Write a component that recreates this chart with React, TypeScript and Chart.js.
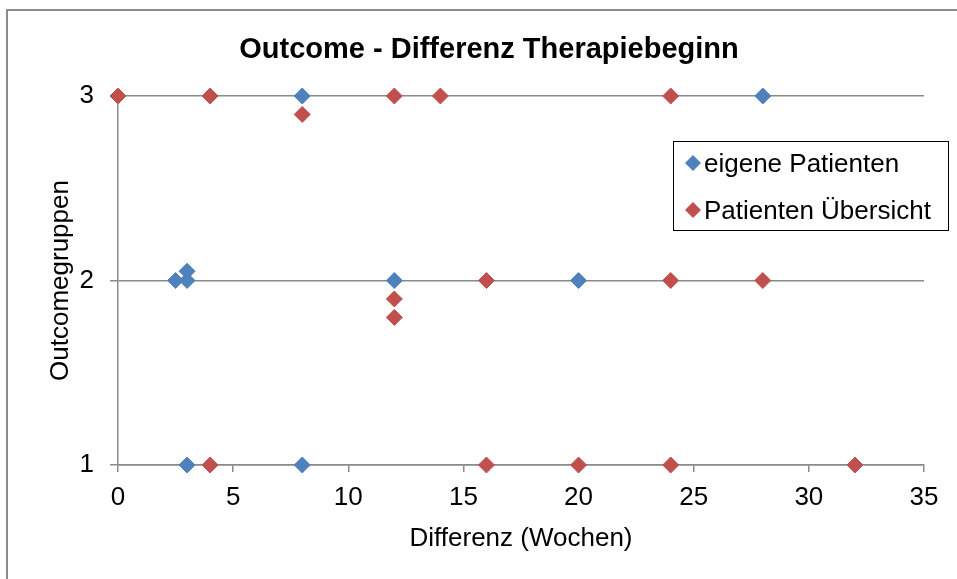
import React, { useEffect, useRef } from "react";
import { Chart, registerables } from "chart.js";

Chart.register(...registerables);

const chartTitle = "Outcome - Differenz Therapiebeginn";
const xAxisTitle = "Differenz (Wochen)";
const yAxisTitle = "Outcomegruppen";

const seriesNames = ["eigene Patienten", "Patienten Übersicht"];
const seriesColors = ["#4F81BD", "#C0504D"];

const eigeneX = [8, 28, 2.5, 3, 3, 12, 20, 3, 8];
const eigeneY = [3, 3, 2, 2.05, 2, 2, 2, 1, 1];

const uebersichtX = [0, 4, 8, 12, 14, 24, 12, 12, 16, 24, 28, 4, 16, 20, 24, 32];
const uebersichtY = [3, 3, 2.9, 3, 3, 3, 1.9, 1.8, 2, 2, 2, 1, 1, 1, 1, 1];

const xMin = 0;
const xMax = 35;
const xStep = 5;
const yMin = 1;
const yMax = 3;
const yStep = 1;

const FONT = "'Liberation Sans', Arial, sans-serif";
const GRID = "#8a8a8a";

const toPoints = (xs: number[], ys: number[]) => xs.map((x, i) => ({ x, y: ys[i] }));

const decorPlugin = {
  id: "decor",
  afterDraw(chart: any) {
    const ctx = chart.ctx;
    ctx.save();
    // outer chart border (top + left visible)
    ctx.strokeStyle = "#8c8c8c";
    ctx.lineWidth = 2;
    ctx.beginPath();
    ctx.moveTo(7, chart.height + 5);
    ctx.lineTo(7, 10);
    ctx.lineTo(chart.width + 5, 10);
    ctx.stroke();

    // title
    ctx.fillStyle = "#000";
    ctx.font = `bold 29px ${FONT}`;
    ctx.textAlign = "center";
    ctx.textBaseline = "alphabetic";
    ctx.fillText(chartTitle, 489, 58);

    // legend
    ctx.strokeStyle = "#000";
    ctx.lineWidth = 1;
    ctx.strokeRect(673.5, 141.5, 275, 89);
    ctx.font = `26px ${FONT}`;
    ctx.textAlign = "left";
    chart.data.datasets.forEach((ds: any, i: number) => {
      const cy = 163 + i * 47;
      const cx = 693;
      const r = 8;
      ctx.fillStyle = ds.backgroundColor;
      ctx.beginPath();
      ctx.moveTo(cx - r, cy);
      ctx.lineTo(cx, cy - r);
      ctx.lineTo(cx + r, cy);
      ctx.lineTo(cx, cy + r);
      ctx.closePath();
      ctx.fill();
      ctx.fillStyle = "#000";
      ctx.fillText(ds.label, 704, 172 + i * 47);
    });
    ctx.restore();
  },
};

export default function App() {
  const ref = useRef<HTMLCanvasElement | null>(null);

  useEffect(() => {
    if (!ref.current) return;
    const chart = new Chart(ref.current, {
      type: "scatter",
      data: {
        datasets: [
          {
            label: seriesNames[0],
            data: toPoints(eigeneX, eigeneY),
            backgroundColor: seriesColors[0],
            borderColor: seriesColors[0],
            borderWidth: 1,
            pointStyle: "rectRot",
            pointRadius: 8,
            clip: false,
            order: 1,
          },
          {
            label: seriesNames[1],
            data: toPoints(uebersichtX, uebersichtY),
            backgroundColor: seriesColors[1],
            borderColor: seriesColors[1],
            borderWidth: 1,
            pointStyle: "rectRot",
            pointRadius: 8,
            clip: false,
            order: 0,
          },
        ],
      },
      options: {
        animation: false,
        responsive: false,
        devicePixelRatio: 1,
        layout: { padding: { top: 96, right: 33, left: 0, bottom: 0 } },
        plugins: {
          legend: { display: false },
          title: { display: false },
          tooltip: { enabled: false },
        },
        scales: {
          x: {
            type: "linear",
            min: xMin,
            max: xMax,
            afterFit: (s: any) => {
              s.height = 114;
            },
            ticks: {
              stepSize: xStep,
              color: "#000",
              font: { family: FONT, size: 26 },
              padding: 10,
              maxRotation: 0,
            },
            grid: {
              drawOnChartArea: false,
              drawTicks: true,
              tickLength: 7,
              color: GRID,
              lineWidth: 1.5,
            },
            border: { display: true, color: GRID, width: 1.5 },
            title: {
              display: true,
              text: xAxisTitle,
              color: "#000",
              font: { family: FONT, size: 26 },
              padding: { top: 0, bottom: 25 },
            },
          },
          y: {
            type: "linear",
            min: yMin,
            max: yMax,
            afterFit: (s: any) => {
              s.width = 118;
            },
            ticks: {
              stepSize: yStep,
              color: "#000",
              font: { family: FONT, size: 26 },
              padding: 16,
            },
            grid: {
              drawTicks: true,
              tickLength: 8,
              color: GRID,
              lineWidth: 1.5,
            },
            border: { display: true, color: GRID, width: 1.5 },
            title: {
              display: true,
              text: yAxisTitle,
              color: "#000",
              font: { family: FONT, size: 26 },
              padding: { top: 45, bottom: 0 },
            },
          },
        },
      },
      plugins: [decorPlugin],
    } as any);
    return () => chart.destroy();
  }, []);

  return (
    <div style={{ position: "fixed", left: 0, top: 0, width: 957, height: 579, background: "#fff" }}>
      <canvas ref={ref} width={957} height={579} style={{ display: "block" }} />
    </div>
  );
}
